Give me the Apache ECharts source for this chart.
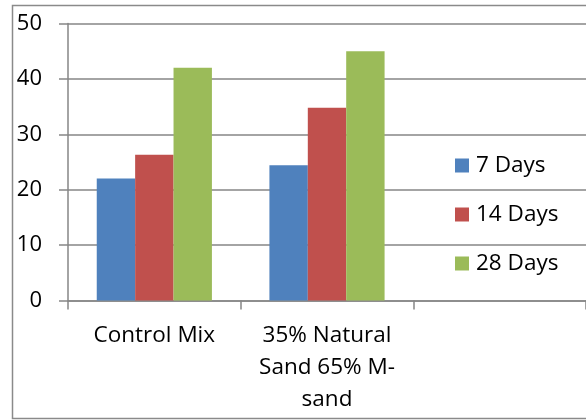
<!DOCTYPE html>
<html>
<head>
<meta charset="utf-8">
<script src="https://cdn.jsdelivr.net/npm/echarts@6/dist/echarts.min.js"></script>
<style>
  html, body { margin: 0; padding: 0; background: #fff; }
  #chart { width: 586px; height: 420px; }
</style>
</head>
<body>
<div id="chart"></div>
<script>
const categories = ["Control Mix", "35% Natural\nSand 65% M-\nsand", ""];
const seriesNames = ["7 Days", "14 Days", "28 Days"];
const days7 = [22.0, 24.4, null];
const days14 = [26.3, 34.8, null];
const days28 = [42.0, 45.0, null];
const yTicks = { min: 0, max: 50, interval: 10 };

const colors = ["#4F81BD", "#C0504D", "#9BBB59"];
const font = "'Open Sans', Lato, sans-serif";
const chart = echarts.init(document.getElementById('chart'), null, { renderer: 'canvas' });

const values = [days7, days14, days28];
chart.setOption({
  animation: false,
  backgroundColor: '#ffffff',
  textStyle: { fontFamily: font },
  graphic: [{
    type: 'rect',
    shape: { x: 12.5, y: 5.5, width: 700, height: 413 },
    style: { fill: 'none', stroke: '#8a8a8a', lineWidth: 1.5 },
    z: 0
  }],
  grid: { left: 68, top: 23.5, right: -1, bottom: 119.5, containLabel: false },
  legend: {
    orient: 'vertical',
    left: 455,
    top: 154,
    padding: 0,
    itemWidth: 14,
    itemHeight: 14,
    itemGap: 26,
    icon: 'rect',
    data: seriesNames,
    textStyle: { fontFamily: font, fontSize: 22.5, color: '#000', lineHeight: 22, padding: [0, 0, 0, 2] }
  },
  xAxis: {
    type: 'category',
    data: categories,
    axisLine: { lineStyle: { color: '#868686', width: 1.5 } },
    axisTick: { show: true, length: 9, alignWithLabel: false, lineStyle: { color: '#868686', width: 1.5 } },
    axisLabel: { color: '#000', fontFamily: font, fontSize: 22.5, lineHeight: 32, margin: 19, interval: 0 }
  },
  yAxis: {
    type: 'value',
    min: yTicks.min, max: yTicks.max, interval: yTicks.interval,
    axisLine: { show: true, lineStyle: { color: '#868686', width: 1.5 } },
    axisTick: { show: true, length: 9, lineStyle: { color: '#868686', width: 1.5 } },
    splitLine: { show: true, lineStyle: { color: '#868686', width: 1.5 } },
    axisLabel: { color: '#000', fontFamily: font, fontSize: 22, margin: 26 }
  },
  series: seriesNames.map((n, i) => ({
    name: n,
    type: 'bar',
    data: values[i],
    itemStyle: { color: colors[i] },
    barGap: '0%',
    barCategoryGap: '33.3%'
  }))
});
</script>
</body>
</html>
